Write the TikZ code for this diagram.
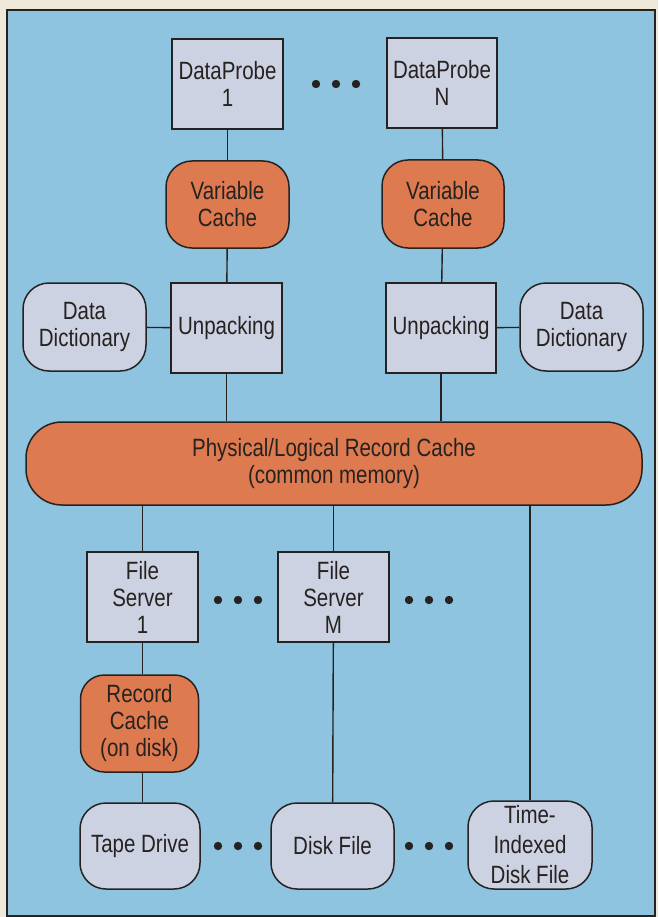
\documentclass[tikz,border=0pt]{standalone}
\usepackage{fontspec}
\setmainfont[FakeStretch=0.82]{Liberation Sans}
\definecolor{cream}{HTML}{EFE9D9}
\definecolor{bgblue}{HTML}{8EC4E0}
\definecolor{boxgray}{HTML}{CDD2E2}
\definecolor{cacheorange}{HTML}{DE7A50}
\definecolor{ink}{HTML}{262220}
\tikzset{
  base/.style={draw=ink, line width=1.5pt, inner sep=0pt, align=center, text=ink,
    font=\fontsize{25}{27}\selectfont},
  sqbox/.style={base, rectangle, fill=boxgray},
  rbox/.style={base, rectangle, rounded corners=26pt, fill=boxgray},
  obox/.style={base, rectangle, rounded corners=26pt, fill=cacheorange},
  link/.style={draw=ink, line width=1.4pt},
  dotmark/.style={fill=ink}
}
\begin{document}
\begin{tikzpicture}[x=1pt, y=-1pt]
\useasboundingbox (0,0) rectangle (658,917);
\fill[cream] (0,0) rectangle (658,917);
\draw[draw=ink, line width=1.6pt, fill=bgblue] (7,10) rectangle (655,916);

% top row
\node[sqbox, minimum width=111pt, minimum height=90pt] (dp1) at (227.5,84) {DataProbe\\1};
\node[sqbox, minimum width=110pt, minimum height=90pt] (dpn) at (442,83) {DataProbe\\N};
\node[obox, minimum width=123pt, minimum height=87pt] (vc1) at (227.5,204.5) {Variable\\Cache};
\node[obox, minimum width=122pt, minimum height=88pt] (vcn) at (443,204) {Variable\\Cache};
\node[sqbox, minimum width=111pt, minimum height=90pt] (up1) at (226.5,328) {Unpacking};
\node[sqbox, minimum width=110pt, minimum height=90pt] (upn) at (441,328) {Unpacking};
\node[rbox, minimum width=123pt, minimum height=88pt] (dd1) at (84.5,327) {Data\\Dictionary};
\node[rbox, minimum width=123pt, minimum height=88pt] (ddn) at (581.5,327) {Data\\Dictionary};
\node[obox, rounded corners=36pt, minimum width=616pt, minimum height=83pt] (rc) at (334,463.5) {Physical/Logical Record Cache\\(common memory)};

% lower part
\node[sqbox, minimum width=111pt, minimum height=90pt] (fs1) at (142.5,597) {File\\Server\\1};
\node[sqbox, minimum width=111pt, minimum height=90pt] (fsm) at (333.5,597) {File\\Server\\M};
\node[obox, rounded corners=24pt, minimum width=118pt, minimum height=97pt] (rcd) at (139.5,723.5) {Record\\Cache\\(on disk)};
\node[rbox, minimum width=120pt, minimum height=86pt] (tape) at (140,846) {Tape Drive};
\node[rbox, minimum width=123pt, minimum height=86pt] (disk) at (332.5,846) {Disk File};
\node[rbox, minimum width=124pt, minimum height=88pt, font=\fontsize{25}{30}\selectfont] (tidf) at (530,845) {Time-\\Indexed\\Disk File};

% connectors
\draw[link] (dp1) -- (vc1);
\draw[link] (vc1) -- (up1);
\draw[link] (dpn) -- (vcn);
\draw[link] (vcn) -- (upn);
\draw[link] (dd1) -- (up1);
\draw[link] (ddn) -- (upn);
\draw[link] (up1.south) -- (up1.south |- rc.north);
\draw[link] (upn.south) -- (upn.south |- rc.north);
\draw[link] (fs1.north |- rc.south) -- (fs1.north);
\draw[link] (fsm.north |- rc.south) -- (fsm.north);
\draw[link] (tidf.north |- rc.south) -- (tidf.north);
\draw[link] (fs1.south) -- (fs1.south |- rcd.north);
\draw[link] (rcd.south -| fs1.south) -- (tape.north -| fs1.south);
\draw[link] (fsm) -- (disk);

% ellipsis dots
\foreach \px in {316,336,356} \fill[dotmark] (\px,84) circle (4.2);
\foreach \px in {218,238,258,409,429,449} \fill[dotmark] (\px,600) circle (4.2);
\foreach \px in {218,238,258,409,429,449} \fill[dotmark] (\px,846) circle (4.2);
\end{tikzpicture}
\end{document}
